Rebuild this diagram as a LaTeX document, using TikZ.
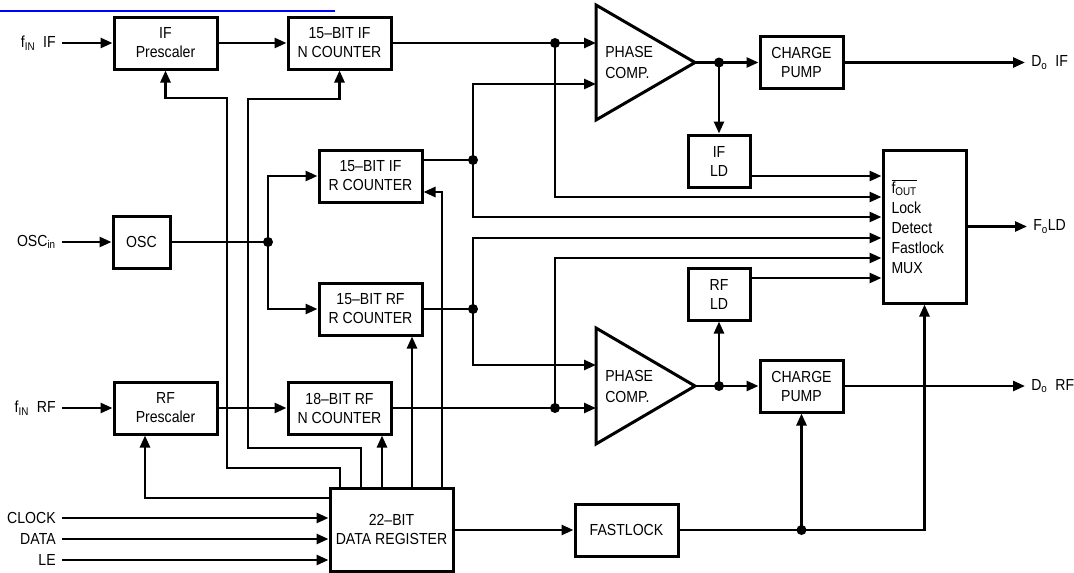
\documentclass[tikz,border=0pt]{standalone}
\usepackage{fontspec}
\setmainfont{Liberation Sans}[FakeStretch=0.88]
\usetikzlibrary{arrows.meta}

\begin{document}
\begin{tikzpicture}[x=1pt, y=-1pt, line width=2.6pt,
    font=\fontsize{16}{19}\selectfont,
    block/.style={draw, line width=3pt, minimum width=103pt, minimum height=52pt, align=center, inner sep=0pt},
    io/.style={inner sep=5pt},
    dot/.style={circle, fill, inner sep=0pt, minimum size=10pt},
    arr/.style={-{Triangle[length=12pt,width=10pt]}}]
    \useasboundingbox (0,0) rectangle (1074,573);
    \draw[blue, line width=2pt] (0,11) -- (335,11);

    % inputs and outputs
    \node[io, anchor=east] (fif) at (62,43) {f\textsubscript{IN}\enspace IF};
    \node[io, anchor=east] (oscin) at (62,242) {OSC\textsubscript{in}};
    \node[io, anchor=east] (frf) at (62,408) {f\textsubscript{IN}\enspace RF};
    \node[io, anchor=east] (clk) at (62,518) {CLOCK};
    \node[io, anchor=east] (dat) at (62,539) {DATA};
    \node[io, anchor=east] (le) at (62,560) {LE};
    \node[io, anchor=west] (dif) at (1025,62.5) {D\textsubscript{o}\enspace IF};
    \node[io, anchor=west] (drf) at (1025,386) {D\textsubscript{o}\enspace RF};
    \node[io, anchor=west] (fold) at (1027,226.5) {F\textsubscript{o}LD};

    % blocks
    \node[block] (ifpre) at (165.5,43) {IF\\Prescaler};
    \node[block] (ifn) at (339.5,43) {15--BIT IF\\N COUNTER};
    \node[block] (ifr) at (370.5,176) {15--BIT IF\\R COUNTER};
    \node[block] (rfr) at (370.5,309) {15--BIT RF\\R COUNTER};
    \node[block, minimum width=57pt] (osc) at (141.5,242) {OSC};
    \node[block] (rfpre) at (165.5,408) {RF\\Prescaler};
    \node[block] (rfn) at (339.5,408) {18--BIT RF\\N COUNTER};
    \node[block, minimum width=123pt, minimum height=83pt] (reg) at (391.5,529.5) {22--BIT\\DATA REGISTER};
    \node[block] (fast) at (626.5,530) {FASTLOCK};
    \node[block, minimum width=83pt] (cp1) at (801.5,62.5) {CHARGE\\PUMP};
    \node[block, minimum width=83pt] (cp2) at (801.5,386) {CHARGE\\PUMP};
    \node[block, minimum width=62pt] (ifld) at (719,161) {IF\\LD};
    \node[block, minimum width=62pt] (rfld) at (719,294) {RF\\LD};
    \node[block, minimum width=83pt, minimum height=153pt, align=left, text width=66pt,
          font=\fontsize{16}{20}\selectfont] (mux) at (924.5,226.5)
          {$\overline{\mbox{f\textsubscript{OUT}}}$\\Lock\\Detect\\Fastlock\\MUX};

    % phase comparators
    \coordinate (pa1) at (596,5);
    \coordinate (pb1) at (596,120);
    \coordinate (pt1) at (695,62.5);
    \draw[line width=3pt] (pa1) -- (pt1) -- (pb1) -- cycle;
    \node[anchor=west, align=left, inner sep=0pt, font=\fontsize{16}{21}\selectfont] (pc1) at (604,62.5) {PHASE\\COMP.};
    \coordinate (pa2) at (596,328);
    \coordinate (pb2) at (596,444);
    \coordinate (pt2) at (695,386);
    \draw[line width=3pt] (pa2) -- (pt2) -- (pb2) -- cycle;
    \node[anchor=west, align=left, inner sep=0pt, font=\fontsize{16}{21}\selectfont] (pc2) at (604,386) {PHASE\\COMP.};

    % junctions
    \node[dot] (j1) at (555,43) {};
    \node[dot] (j2) at (473,160) {};
    \node[dot] (j3) at (473,309) {};
    \node[dot] (j4) at (555,408) {};
    \node[dot] (j5) at (719,62.5) {};
    \node[dot] (j6) at (719,386) {};
    \node[dot] (j7) at (268,242) {};
    \node[dot] (j8) at (801.5,530) {};

    % IF path
    \draw[arr] (fif.east) -- (ifpre.west);
    \draw[arr] (ifpre) -- (ifn);
    \draw (ifn.east |- j1) -- (j1.center);
    \draw[arr] (j1.center) -- (j1 -| pa1);
    \draw[arr] (j1.center) |- (mux.west |- 0,197);
    \draw (ifr.east |- j2) -- (j2.center);
    \draw[arr] (j2.center) |- (pa1 |- 0,84);
    \draw[arr] (j2.center) |- (mux.west |- 0,217);
    \draw (pt1) -- (j5.center);
    \draw[arr] (j5.center) -- (cp1.west);
    \draw[arr] (j5.center) -- (ifld.north);
    \draw[arr] (cp1.east) -- (dif.west);
    \draw[arr] (ifld.east |- 0,176) -- (mux.west |- 0,176);

    % reference
    \draw[arr] (oscin.east) -- (osc.west);
    \draw (osc.east) -- (j7.center);
    \draw[arr] (j7.center) |- (ifr.west);
    \draw[arr] (j7.center) |- (rfr.west);

    % RF path
    \draw[arr] (frf.east) -- (rfpre.west);
    \draw[arr] (rfpre) -- (rfn);
    \draw (rfn.east |- j4) -- (j4.center);
    \draw[arr] (j4.center) -- (j4 -| pa2);
    \draw[arr] (j4.center) |- (mux.west |- 0,258);
    \draw (rfr.east |- j3) -- (j3.center);
    \draw[arr] (j3.center) |- (mux.west |- 0,238);
    \draw[arr] (j3.center) |- (pa2 |- 0,365);
    \draw (pt2) -- (j6.center);
    \draw[arr] (j6.center) -- (cp2.west);
    \draw[arr] (j6.center) -- (rfld.south);
    \draw[arr] (cp2.east) -- (drf.west);
    \draw[arr] (rfld.east |- 0,278) -- (mux.west |- 0,278);
    \draw[arr] (mux.east) -- (fold.west);

    % serial interface
    \draw[arr] (clk.east) -- (clk -| reg.west);
    \draw[arr] (dat.east) -- (dat -| reg.west);
    \draw[arr] (le.east) -- (le -| reg.west);
    \draw[arr] (reg.east |- fast.west) -- (fast.west);
    \draw (fast.east) -- (j8.center);
    \draw[arr] (j8.center) -- (cp2.south);
    \draw[arr] (j8.center) -| (mux.south);

    % register outputs
    \draw[arr] (reg.north -| 340,0) |- (227,468) |- (ifpre.south |- 0,98) -- (ifpre.south);
    \draw[arr] (reg.north -| 361,0) |- (248,448) |- (ifn.south |- 0,99) -- (ifn.south);
    \draw[arr] (reg.north -| 382,0) -- (rfn.south -| 382,0);
    \draw[arr] (reg.north -| 412,0) -- (rfr.south -| 412,0);
    \draw[arr] (reg.north -| 442,0) |- (ifr.east |- 0,192);
    \draw[arr] (reg.west |- 0,498) -| (rfpre.south -| 145,0);
\end{tikzpicture}
\end{document}
